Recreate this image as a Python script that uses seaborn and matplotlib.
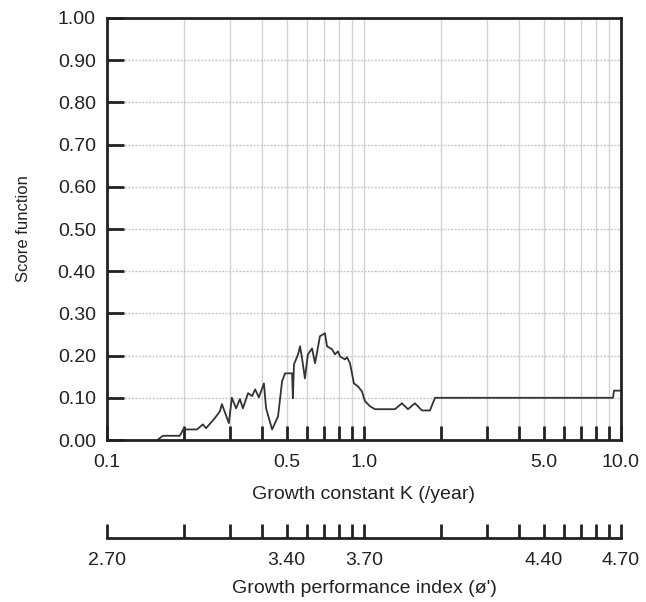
import matplotlib
matplotlib.use('Agg')
import matplotlib.pyplot as plt
import seaborn as sns
import pandas as pd

# score function vs growth constant K
k_values = [0.157, 0.165, 0.192, 0.198, 0.224, 0.236, 0.243, 0.263, 0.275, 0.280,
            0.298, 0.306, 0.318, 0.329, 0.338, 0.354, 0.367, 0.377, 0.390, 0.408,
            0.416, 0.439, 0.463, 0.480, 0.493, 0.525, 0.529, 0.534, 0.554, 0.564,
            0.574, 0.589, 0.605, 0.628, 0.645, 0.674, 0.705, 0.718, 0.751, 0.771,
            0.792, 0.807, 0.843, 0.859, 0.882, 0.914, 0.948, 0.982, 1.009, 1.055,
            1.103, 1.32, 1.405, 1.483, 1.579, 1.681, 1.806, 1.889, 9.31, 9.39, 10.0]
scores = [0.000, 0.010, 0.010, 0.025, 0.025, 0.037, 0.028, 0.052, 0.068, 0.085,
          0.040, 0.100, 0.075, 0.097, 0.075, 0.111, 0.104, 0.120, 0.101, 0.134,
          0.075, 0.025, 0.056, 0.139, 0.158, 0.158, 0.099, 0.179, 0.203, 0.222,
          0.194, 0.146, 0.203, 0.217, 0.182, 0.246, 0.253, 0.222, 0.215, 0.203,
          0.210, 0.198, 0.191, 0.196, 0.182, 0.134, 0.127, 0.115, 0.092, 0.080,
          0.073, 0.073, 0.087, 0.073, 0.087, 0.070, 0.070, 0.100, 0.100, 0.117, 0.117]

k_ticks = [0.1, 0.2, 0.3, 0.4, 0.5, 0.6, 0.7, 0.8, 0.9, 1, 2, 3, 4, 5, 6, 7, 8, 9, 10]
k_label_pos = [0.1, 0.5, 1, 5, 10]
k_labels = ['0.1', '0.5', '1.0', '5.0', '10.0']
phi_labels = ['2.70', '3.40', '3.70', '4.40', '4.70']
y_ticks = [0.0, 0.1, 0.2, 0.3, 0.4, 0.5, 0.6, 0.7, 0.8, 0.9, 1.0]

df = pd.DataFrame({'K': k_values, 'score': scores})

sns.set_style('white')
plt.rcParams['font.family'] = ['Liberation Sans', 'DejaVu Sans']
ink = '#222222'


def tick_text(labels):
    lookup = dict(zip(k_label_pos, labels))
    return [lookup.get(k, '') for k in k_ticks]


fig = plt.figure(figsize=(6.46, 6.02), dpi=100)
ax = fig.add_axes([0.1656, 0.2691, 0.7957, 0.7010])

# grid
for k in k_ticks[1:-1]:
    ax.axvline(k, color='#d2d2d2', lw=1, zorder=0)
for y in y_ticks[1:-1]:
    ax.axhline(y, color='#c8c8c8', lw=1, ls=(0, (1.5, 1)), zorder=0)

sns.lineplot(data=df, x='K', y='score', ax=ax, color='#333333', lw=1.3,
             sort=False, estimator=None)

ax.set_xscale('log')
ax.set_xlim(0.1, 10)
ax.set_ylim(0, 1)

ax.set_xticks(k_ticks)
ax.set_xticklabels(tick_text(k_labels))
ax.minorticks_off()
ax.tick_params(axis='x', bottom=True, direction='in', length=10, width=2,
               color=ink, pad=10, labelsize=14, labelcolor=ink)
ax.set_yticks(y_ticks)
ax.set_yticklabels([f'{v:.2f}' for v in y_ticks])
ax.tick_params(axis='y', left=True, direction='in', length=12, width=2,
               color=ink, pad=8, labelsize=14, labelcolor=ink)
for s in ax.spines.values():
    s.set_visible(True)
    s.set_color(ink)
    s.set_linewidth(2)

ax.set_xlabel('Growth constant K (/year)', fontsize=14, color=ink, labelpad=11)
ax.set_ylabel('Score function', fontsize=12, color=ink, labelpad=19)

# second scale: growth performance index
ax2 = fig.add_axes([0.1656, 0.1063, 0.7957, 0.0001])
ax2.set_xscale('log')
ax2.set_xlim(0.1, 10)
ax2.set_yticks([])
ax2.set_xticks(k_ticks)
ax2.set_xticklabels(tick_text(phi_labels))
ax2.minorticks_off()
ax2.tick_params(axis='x', bottom=True, direction='in', length=10, width=2,
                color=ink, pad=10, labelsize=14, labelcolor=ink)
for name, s in ax2.spines.items():
    s.set_visible(name == 'bottom')
s = ax2.spines['bottom']
s.set_color(ink)
s.set_linewidth(2)
ax2.patch.set_visible(False)
ax2.set_xlabel("Growth performance index (ø')", fontsize=14, color=ink, labelpad=8)

fig.savefig('out.png', dpi=100, facecolor='white')
plt.close(fig)
